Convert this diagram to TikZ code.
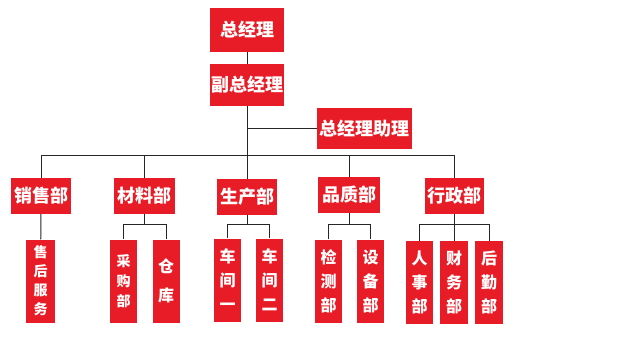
\documentclass[tikz,border=0pt]{standalone}
\usepackage{fontspec}
\newfontfamily\cjk{Noto Sans CJK SC}
\usepackage{xcolor}
\definecolor{boxred}{RGB}{232,28,38}
\usepackage{tikz}

\begin{document}
\begin{tikzpicture}[
  x=1pt,y=-1pt,
  hbox/.style={rectangle,fill=boxred,text=white,inner sep=0pt,
               minimum height=36pt,
               font=\cjk\bfseries\fontsize{18}{20}\selectfont,align=center},
  vbox/.style={rectangle,fill=boxred,text=white,inner sep=0pt,
               minimum width=27pt,minimum height=83pt,
               font=\cjk\bfseries\fontsize{16}{24}\selectfont,align=center},
  ln/.style  ={line width=1pt,color=black!85}
]
\useasboundingbox (0,0) rectangle (626,343);
\node[hbox,minimum width=74pt,minimum height=44pt] (gm)   at (247,30)    {总经理};
\node[hbox,minimum width=74pt,minimum height=42pt] (vgm)  at (247,85)    {副总经理};
\node[hbox,minimum width=95pt,minimum height=41pt] (asst) at (364.5,128.5){总经理助理};
\node[hbox,minimum width=60pt] (sales) at (41,196)    {销售部};
\node[hbox,minimum width=61pt] (mat)   at (144,196)   {材料部};
\node[hbox,minimum width=60pt] (prod)  at (247,197)   {生产部};
\node[hbox,minimum width=62pt] (qual)  at (349,195)   {品质部};
\node[hbox,minimum width=59pt] (admin) at (454,196)   {行政部};
\node[vbox,minimum width=29pt,font=\cjk\bfseries\fontsize{14}{19}\selectfont]
  (svc) at (40.5,281) {售\\后\\服\\务};
\node[vbox,font=\cjk\bfseries\fontsize{14}{20}\selectfont]
  (pur) at (123.5,281) {采\\购\\部};
\node[vbox,font=\cjk\bfseries\fontsize{16}{29}\selectfont]
  (store) at (166,281) {仓\\库};
\node[vbox] (ws1)   at (227.5,280) {车\\间\\一};
\node[vbox] (ws2)   at (269.5,280) {车\\间\\二};
\node[vbox] (insp)  at (328.5,281) {检\\测\\部};
\node[vbox] (equip) at (370.5,281) {设\\备\\部};
\node[vbox] (hr)    at (419.5,282.5) {人\\事\\部};
\node[vbox,minimum width=28pt] (fin)  at (454,282.5) {财\\务\\部};
\node[vbox,minimum width=28pt] (logi) at (489,282.5) {后\\勤\\部};
\coordinate (bus) at (247,155);
\coordinate (sub) at (0,224);
\draw[ln] (gm) -- (vgm);
\draw[ln] (vgm.south) |- (asst.west);
\draw[ln] (vgm) -- (bus);
\draw[ln] (sales.north |- bus) -- (admin.north |- bus);
\foreach \d in {sales,mat,prod,qual,admin}
  \draw[ln] (\d) -- (\d.north |- bus);
\draw[ln] (sales) -- (svc);
\foreach \d in {mat,prod,qual,admin}
  \draw[ln] (\d) -- (\d.south |- sub);
\foreach \a/\b in {mat/pur,mat/store,prod/ws1,prod/ws2,qual/insp,qual/equip,
                   admin/hr,admin/fin,admin/logi}
  \draw[ln] (\b.north) |- (\a.south |- sub);
\end{tikzpicture}
\end{document}
